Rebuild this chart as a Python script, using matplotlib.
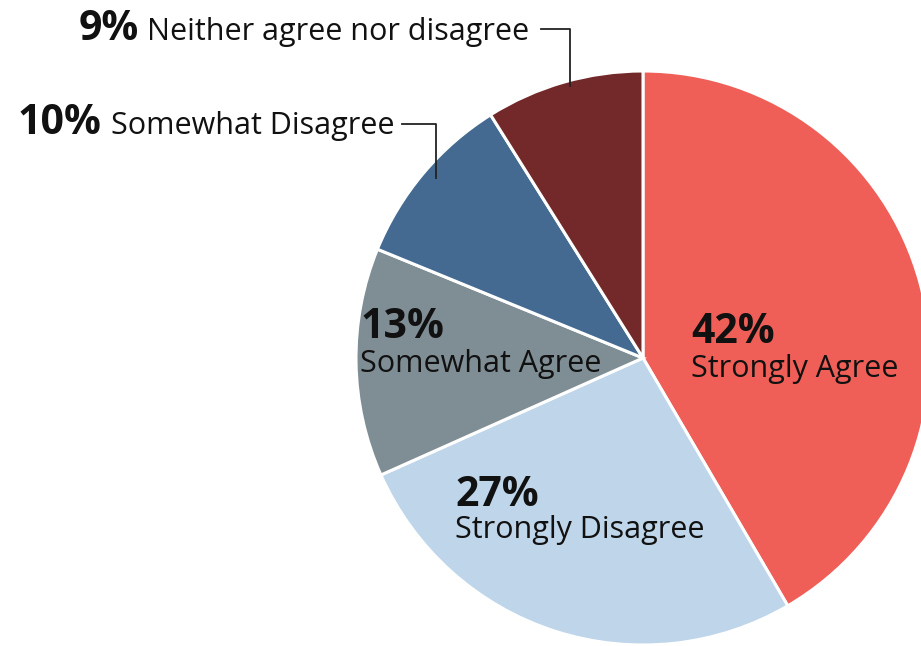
import matplotlib
matplotlib.use("Agg")
import matplotlib.pyplot as plt

categories = ["Strongly Agree", "Strongly Disagree", "Somewhat Agree",
              "Somewhat Disagree", "Neither agree nor disagree"]
values = [42, 27, 13, 10, 9]
pct_labels = ["42%", "27%", "13%", "10%", "9%"]
colors = ["#F05F57", "#BED5EA", "#7F8E94", "#446A92", "#73292A"]

W, H = 921, 646
fig = plt.figure(figsize=(W / 100, H / 100), dpi=100)
ax = fig.add_axes([0, 0, 1, 1])
cx, cy, R = 643, 358, 287

ax.pie(values, colors=colors, startangle=90, counterclock=False, radius=1,
       wedgeprops=dict(edgecolor="white", linewidth=2.2))
ax.set_xlim(-cx / R, (W - cx) / R)
ax.set_ylim(-(H - cy) / R, cy / R)
ax.set_aspect("equal", adjustable="datalim")
ax.axis("off")

FONT = "Open Sans"

def px(x, y):
    return x / W, 1 - y / H

def t(x, y, s, size, bold=False):
    fig.text(*px(x, y), s, fontsize=size, fontweight="bold" if bold else "normal",
             family=FONT, ha="left", va="baseline", color="#111111")

BS, RS = 29.5, 22
# outside labels
t(79, 40, pct_labels[4], BS, True)
t(147, 40, categories[4], RS)
t(18, 134, pct_labels[3], BS, True)
t(111, 134, categories[3], RS)

# leader lines (pixel coords)
def line(xs, ys):
    fig.add_artist(plt.Line2D([x / W for x in xs], [1 - y / H for y in ys],
                              color="#222222", lw=1.3))
line([541, 570, 570], [29, 29, 86])
line([402, 436, 436], [124, 124, 178])

# inside labels
t(361, 338, pct_labels[2], BS, True)
t(360, 372, categories[2], RS)
t(691, 343, pct_labels[0], BS, True)
t(691, 377, categories[0], RS)
t(455, 506, pct_labels[1], BS, True)
t(455, 538, categories[1], RS)

fig.savefig("out.png", dpi=100, facecolor="white")
